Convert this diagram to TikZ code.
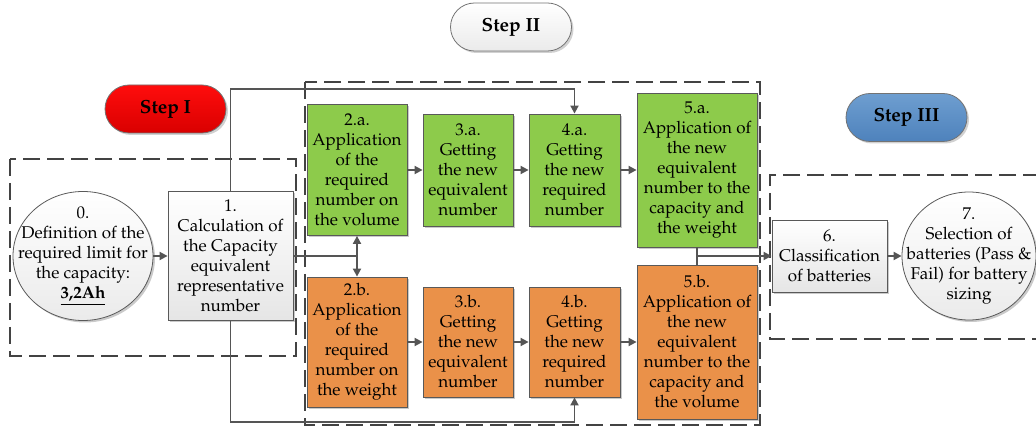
\documentclass[tikz,border=0pt]{standalone}
\usepackage[T1]{fontenc}
\usepackage{mathpazo}
\usetikzlibrary{arrows.meta}
\usetikzlibrary{shapes.geometric}
\usetikzlibrary{shadows}
\definecolor{boxgreen}{HTML}{8DCB4B}
\definecolor{boxorange}{HTML}{EA9149}
\definecolor{lineg}{HTML}{555555}
\definecolor{dashg}{HTML}{434343}
\tikzset{
    flow/.style={
        draw=black!65, line width=0.8pt, align=center, inner sep=0pt,
        font=\fontsize{17}{20}\selectfont,
        drop shadow={shadow xshift=2pt, shadow yshift=-2pt, opacity=0.35, fill=black!60}
    },
    greenbox/.style={flow, fill=boxgreen},
    orangebox/.style={flow, fill=boxorange},
    greybox/.style={flow, top color=white, bottom color=black!10},
    oval/.style={flow, ellipse, inner xsep=-16pt, inner ysep=-6pt, top color=white, bottom color=black!8},
    pill/.style={
        draw=black!55, line width=0.8pt, rounded corners=24pt,
        minimum width=121pt, minimum height=48pt,
        font=\fontsize{19}{22}\selectfont\bfseries,
        drop shadow={shadow xshift=2pt, shadow yshift=-2pt, opacity=0.3, fill=black!60}
    },
    conn/.style={draw=lineg, line width=1.8pt},
    arr/.style={conn, -{Triangle[length=8pt,width=8pt]}},
    darr/.style={conn, {Triangle[length=8pt,width=8pt]}-{Triangle[length=8pt,width=8pt]}},
    stepline/.style={draw=dashg, line width=2.6pt, dash pattern=on 17pt off 7pt}
}

\begin{document}
\begin{tikzpicture}[x=1pt,y=-1pt]
		\useasboundingbox (0,0) rectangle (1036,427);

		% step frames
		\draw[stepline] (10,159) rectangle (296,356);
		\draw[stepline] (305,82) rectangle (760,425);
		\draw[stepline] (1040,175) -- (770,175) -- (770,339) -- (1040,339);

		% step labels
		\node[pill, top color=red!95, bottom color=red!85!black] (p1) at (165.5,109) {Step I};
		\node[pill, top color=white, bottom color=black!8] (p2) at (511,27) {Step II};
		\node[pill, top color={rgb,255:red,110;green,158;blue,208}, bottom color={rgb,255:red,78;green,130;blue,188}] (p3) at (906.5,117.5) {Step III};

		% Step I
		\node[oval, minimum width=140pt, minimum height=129pt] (c0) at (83,256)
			{0.\\Definition of the\\required limit for\\the capacity:\\\underline{\textbf{3,2Ah}}};
		\node[greybox, minimum width=125pt, minimum height=129pt] (b1) at (230.5,256)
			{1.\\Calculation of\\the Capacity\\equivalent\\representative\\number};

		% Step II, volume branch
		\node[greenbox, minimum width=100pt, minimum height=131pt] (a2) at (357,170)
			{2.a.\\Application\\of the\\required\\number on\\the volume};
		\node[greenbox, minimum width=90pt, minimum height=112pt] (a3) at (468,170)
			{3.a.\\Getting\\the new\\equivalent\\number};
		\node[greenbox, minimum width=91pt, minimum height=112pt] (a4) at (574.5,170)
			{4.a.\\Getting\\the new\\required\\number};
		\node[greenbox, minimum width=120pt, minimum height=154pt] (a5) at (697,170)
			{5.a.\\Application of\\the new\\equivalent\\number to the\\capacity and\\the weight};

		% Step II, weight branch
		\node[orangebox, minimum width=100pt, minimum height=130pt] (b2) at (357,342)
			{2.b.\\Application\\of the\\required\\number on\\the weight};
		\node[orangebox, minimum width=90pt, minimum height=110pt] (b3) at (468,342)
			{3.b.\\Getting\\the new\\equivalent\\number};
		\node[orangebox, minimum width=91pt, minimum height=110pt] (b4) at (574.5,342)
			{4.b.\\Getting\\the new\\required\\number};
		\node[orangebox, minimum width=120pt, minimum height=154pt] (b5) at (697,342)
			{5.b.\\Application of\\the new\\equivalent\\number to the\\capacity and\\the volume};

		% Step III
		\node[greybox, minimum width=115pt, minimum height=72pt] (b6) at (829.5,256)
			{6.\\Classification\\of batteries};
		\node[oval, minimum width=134pt, minimum height=128pt] (c7) at (969,256)
			{7.\\Selection of\\batteries (Pass \&\\Fail) for battery\\sizing};

		% connectors
		\coordinate (top) at (0,89);
		\coordinate (bot) at (0,422);
		\draw[arr] (c0.east) -- (c0.east -| b1.west);
		\draw[arr] (b1.north) -- (b1.north |- top) -| (a4.north);
		\draw[arr] (b1.south) -- (b1.south |- bot) -| (b4.south);
		\draw[conn] (b1.east) -- (b1.east -| a2.south);
		\draw[darr] (a2.south) -- (b2.north);
		\draw[arr] (a2.east) -- (a3.west);
		\draw[arr] (a3.east) -- (a4.west);
		\draw[arr] (a4.east) -- (a5.west);
		\draw[arr] (b2.east) -- (b3.west);
		\draw[arr] (b3.east) -- (b4.west);
		\draw[arr] (b4.east) -- (b5.west);
		\draw[conn] (a5.south) -- (b5.north);
		\draw[arr] (a5.south |- b6.west) -- (b6.west);
		\draw[arr] (b6.east) -- (c7.west);

	\end{tikzpicture}
\end{document}
